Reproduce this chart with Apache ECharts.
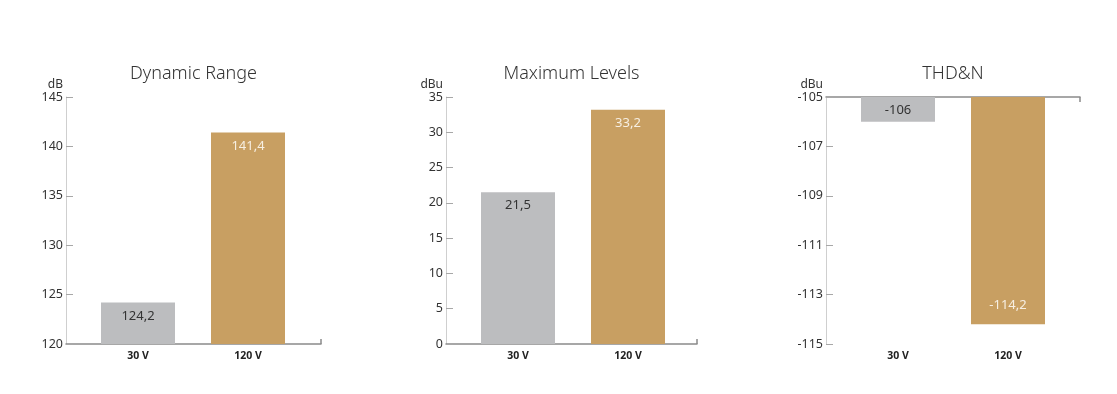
<!DOCTYPE html>
<html>
<head>
<meta charset="utf-8">
<script src="https://cdn.jsdelivr.net/npm/echarts@6/dist/echarts.min.js"></script>
<style>
html, body { margin: 0; background: #fff; }
#main { width: 1117px; height: 394px; }
</style>
</head>
<body>
<div id="main"></div>
<script>
var categories = ['30 V', '120 V'];
var titles = ['Dynamic Range', 'Maximum Levels', 'THD&N'];
var units = ['dB', 'dBu', 'dBu'];
var rangeValues = [124.2, 141.4];
var levelValues = [21.5, 33.2];
var thdValues = [-106, -114.2];
var rangeTicks = [120, 125, 130, 135, 140, 145];
var levelTicks = [0, 5, 10, 15, 20, 25, 30, 35];
var thdTicks = [-115, -113, -111, -109, -107, -105];

var barColors = ['#bcbdbf', '#c89f62'];
var labelColors = ['#333333', '#f7efe2'];
var font = '"Noto Sans", "Open Sans", sans-serif';

// per panel layout
var panels = [
    { left: 66, width: 255, values: rangeValues, ticks: rangeTicks, flip: false },
    { left: 446, width: 251, values: levelValues, ticks: levelTicks, flip: false },
    { left: 826, width: 254, values: thdValues, ticks: thdTicks, flip: true }
];

function fmt(v) {
    return String(v).replace('.', ',');
}

var option = {
    animation: false,
    backgroundColor: '#fff',
    title: [],
    grid: [],
    xAxis: [],
    yAxis: [],
    series: []
};

panels.forEach(function (p, i) {
    var xMin = -72 / 110;
    var xMax = 1 + (p.width - 182) / 110;
    var yMin = p.ticks[0], yMax = p.ticks[p.ticks.length - 1];

    option.title.push({
        text: titles[i],
        left: p.left + p.width / 2,
        textAlign: 'center',
        top: 65,
        padding: 0,
        textStyle: { fontFamily: font, fontSize: 18, fontWeight: 300, color: '#333' }
    });
    option.grid.push({
        left: p.left, top: 97, width: p.width, height: 247,
        containLabel: false, outerBoundsMode: 'none'
    });

    var labelAxis = {
        type: 'value', gridIndex: i, min: xMin, max: xMax,
        splitLine: { show: false },
        axisLine: { show: !p.flip, lineStyle: { color: '#8a8a8a', width: 1.5 } },
        axisTick: { show: !p.flip, inside: true, length: 5, customValues: [xMax],
            lineStyle: { color: '#8a8a8a', width: 1.5 } },
        axisLabel: {
            customValues: [0, 1], margin: 7,
            fontFamily: font, fontSize: 10.5, fontWeight: 'bold', color: '#222',
            formatter: function (v) { return categories[Math.round(v)]; }
        }
    };
    var labelAxisIndex = option.xAxis.length;
    option.xAxis.push(labelAxis);
    if (p.flip) {
        option.xAxis.push({
            type: 'value', gridIndex: i, min: xMin, max: xMax, position: 'top',
            splitLine: { show: false },
            axisLine: { show: true, lineStyle: { color: '#8a8a8a', width: 1.5 } },
            axisTick: { show: true, inside: true, length: 5, customValues: [xMax],
                lineStyle: { color: '#8a8a8a', width: 1.5 } },
            axisLabel: { show: false }
        });
    }

    option.yAxis.push({
        type: 'value', gridIndex: i, min: yMin, max: yMax,
        name: units[i], nameLocation: 'end', nameGap: 5,
        nameTextStyle: { fontFamily: font, fontSize: 12, color: '#333', align: 'right', padding: [0, 3, 0, 0] },
        splitLine: { show: false },
        axisLine: { show: true, onZero: false, lineStyle: { color: '#cfcfcf', width: 1 } },
        axisTick: { show: true, inside: true, length: 7, customValues: p.ticks,
            lineStyle: { color: '#a8a8a8' } },
        axisLabel: {
            customValues: p.ticks, margin: 3,
            fontFamily: font, fontSize: 12.5, color: '#333'
        }
    });

    option.series.push({
        type: 'bar',
        xAxisIndex: labelAxisIndex,
        yAxisIndex: i,
        barWidth: 74,
        clip: true,
        data: p.values.map(function (v, k) {
            var pos = 'insideTop';
            if (p.flip && k === 1) pos = 'insideBottom';
            return {
                value: [k, v],
                itemStyle: { color: barColors[k] },
                label: {
                    show: true, position: pos, distance: (p.flip && k === 1) ? 12 : 7,
                    color: labelColors[k], fontFamily: font, fontSize: 13,
                    formatter: function () { return fmt(v); }
                }
            };
        })
    });
});

var myChart = echarts.init(document.getElementById('main'));
myChart.setOption(option);
</script>
</body>
</html>
